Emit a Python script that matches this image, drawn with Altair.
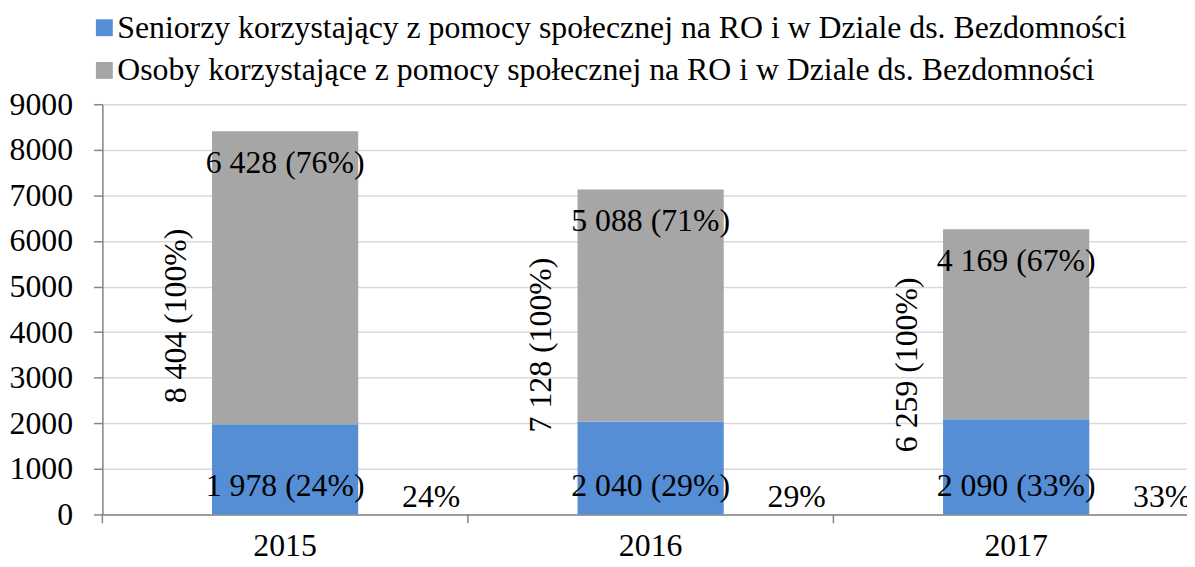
import altair as alt
import pandas as pd

years = ["2015", "2016", "2017"]
seniors = [1978, 2040, 2090]
others = [6428, 5088, 4169]
totals = [8404, 7128, 6259]
seniors_pct = [24, 29, 33]
others_pct = [76, 71, 67]
series = [
    "Seniorzy korzystający z pomocy społecznej na RO i w Dziale ds. Bezdomności",
    "Osoby korzystające z pomocy społecznej na RO i w Dziale ds. Bezdomności",
]
colors = ["#558ED5", "#A6A6A6"]
y_ticks = list(range(0, 9001, 1000))


def fmt(n):
    return f"{n:,}".replace(",", " ")


bar_rows = []
for i, y in enumerate(years):
    bar_rows.append({"year": y, "series": series[0], "ord": 0, "value": seniors[i]})
    bar_rows.append({"year": y, "series": series[1], "ord": 1, "value": others[i]})
bars_df = pd.DataFrame(bar_rows)

lab_df = pd.DataFrame({
    "year": years,
    "total": totals,
    "lab_total": [f"{fmt(t)} (100%)" for t in totals],
    "lab_others": [f"{fmt(o)} ({p}%)" for o, p in zip(others, others_pct)],
    "lab_seniors": [f"{fmt(s)} ({p}%)" for s, p in zip(seniors, seniors_pct)],
    "lab_pct": [f"{p}%" for p in seniors_pct],
    "zero": [0, 0, 0],
})

FONT = "Liberation Serif"
FS = 32
AXIS_GRAY = "#868686"
STEP = 368

x_scale = alt.Scale(domain=years, range=[0, 3 * STEP], paddingInner=0.6, paddingOuter=0.3)
y_scale = alt.Scale(domain=[0, 9000], nice=False)

x_axis = alt.Axis(
    title=None, labelAngle=0, labelFontSize=FS, labelFont=FONT, labelColor="black",
    ticks=False, domainColor=AXIS_GRAY, domainWidth=1.5, labelPadding=16, grid=False,
)
y_axis = alt.Axis(
    title=None, values=y_ticks, format="d", labelFontSize=FS, labelFont=FONT,
    labelColor="black", tickSize=9, tickColor=AXIS_GRAY, tickWidth=1.5,
    domainColor=AXIS_GRAY, domainWidth=1.5, labelPadding=21, grid=True,
    gridColor="#D9D9D9", gridWidth=1.5,
)

bars = alt.Chart(bars_df).mark_bar().encode(
    x=alt.X("year:N", scale=x_scale, axis=x_axis),
    y=alt.Y("value:Q", stack="zero", scale=y_scale, axis=y_axis),
    color=alt.Color(
        "series:N",
        scale=alt.Scale(domain=series, range=colors),
        legend=alt.Legend(
            title=None, orient="none", legendX=-14, legendY=-93, direction="vertical",
            labelFontSize=FS, labelFont=FONT, labelColor="black", labelLimit=0,
            symbolType="square", symbolSize=289, symbolStrokeWidth=0, symbolOpacity=1,
            rowPadding=11, labelOffset=alt.ExprRef(expr="-3"), padding=0,
        ),
    ),
    order=alt.Order("ord:Q"),
)

base = alt.Chart(lab_df)
txt = dict(fontSize=FS, font=FONT, color="black")

# category boundary ticks on the x axis (half a step left of each band centre)
ticks = base.mark_rule(color=AXIS_GRAY, strokeWidth=1.5, xOffset=-STEP / 2).encode(
    x=alt.X("year:N"), y=alt.value(413), y2=alt.value(422)
)

top_lab = base.mark_text(baseline="alphabetic", align="center", dy=42, **txt).encode(
    x=alt.X("year:N"), y=alt.Y("total:Q"), text="lab_others:N"
)
bot_lab = base.mark_text(baseline="alphabetic", align="center", dy=-19, **txt).encode(
    x=alt.X("year:N"), y=alt.Y("zero:Q"), text="lab_seniors:N"
)
pct_lab = base.mark_text(baseline="alphabetic", align="center", dx=147, dy=-7, **txt).encode(
    x=alt.X("year:N"), y=alt.Y("zero:Q"), text="lab_pct:N"
)
tot_lab = base.transform_calculate(half="datum.total / 2").mark_text(
    baseline="alphabetic", align="center", angle=270, dx=7, dy=-100, **txt
).encode(x=alt.X("year:N"), y=alt.Y("half:Q"), text="lab_total:N")

chart = alt.layer(bars, ticks, top_lab, bot_lab, pct_lab, tot_lab).properties(
    width=1092, height=413,
    padding={"left": 95, "top": 95, "right": 0, "bottom": 43},
    autosize=alt.AutoSizeParams(type="none"),
).configure_view(stroke=None).configure(font=FONT)

chart.save("out.html", embed_options={"renderer": "svg", "actions": False})
